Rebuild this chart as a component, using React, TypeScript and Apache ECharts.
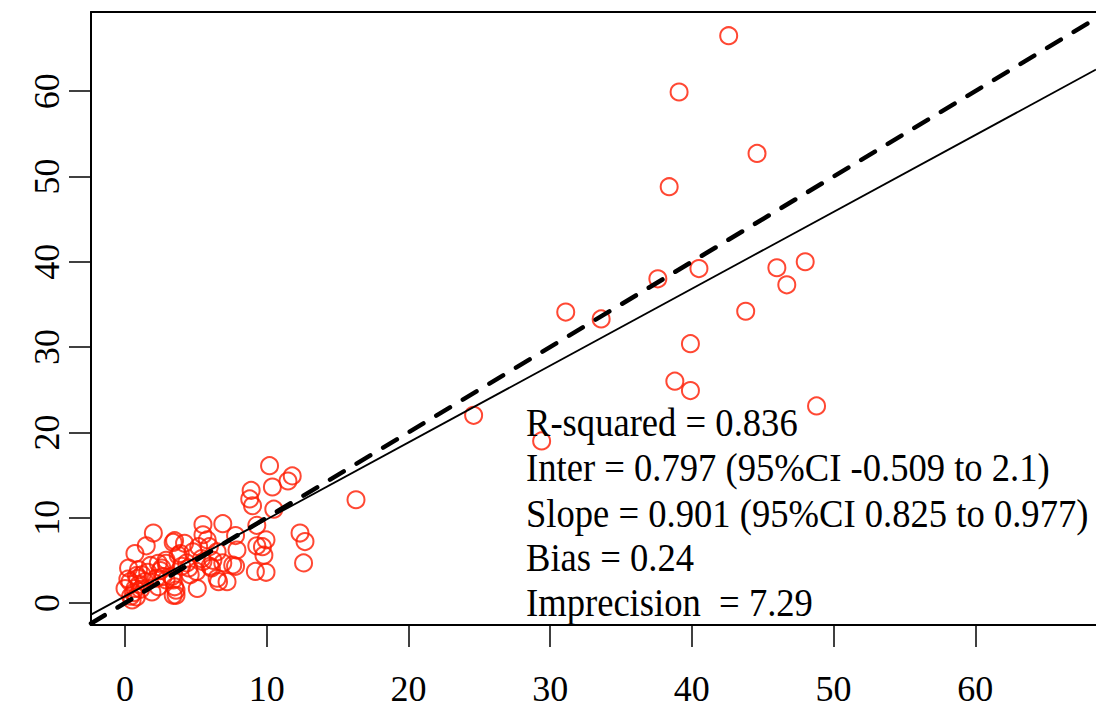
import React, { useEffect, useRef } from "react";
import * as echarts from "echarts";

const pointsX: number[] = [
  42.6, 39.1, 44.6, 38.4, 31.1, 33.6, 37.6, 40.5, 46.0, 48.0, 46.7, 43.8, 39.9, 38.8, 39.9, 48.8, 29.4, 24.6, 16.3,
  10.2, 11.8, 11.5, 10.4, 8.9, 8.8, 9.0, 10.5, 9.3, 12.35, 12.7, 12.6, 9.95, 9.7, 9.3, 7.9, 9.8, 7.8, 9.2, 9.95,
  5.5, 6.9, 3.4, 4.2, 5.5, 5.8, 5.95, 5.2, 4.8, 7.8, 3.9, 2.9, 2.7, 3.4, 3.6, 3.4, 4.6, 5.1, 6.5, 7.2, 6.9, 6.2, 6.5, 6.0, 4.35, 5.5,
  2.0, 1.5, 0.7, 3.5, 2.35, 2.6, 0.25, 0.95, 0.35, 0.0, 0.7, 0.8, 0.5, 1.2, 1.4, 1.9, 2.35, 3.5, 3.6, 3.3, 4.0, 3.75,
  2.9, 4.5, 5.05, 6.1, 6.6, 7.6, 2.9, 5.4,
  0.2, 0.6, 1.0, 0.4, 1.1, 0.9, 1.6, 2.2, 2.5, 1.8, 0.8,
];
const pointsY: number[] = [
  66.5, 59.9, 52.7, 48.8, 34.1, 33.3, 38.0, 39.2, 39.3, 40.0, 37.3, 34.2, 30.4, 26.0, 24.9, 23.1, 19.0, 22.0, 12.1,
  16.1, 14.9, 14.3, 13.6, 13.2, 12.2, 11.4, 11.0, 9.1, 8.2, 7.2, 4.7, 7.4, 6.6, 6.7, 6.2, 5.6, 4.3, 3.7, 3.6,
  9.2, 9.3, 7.1, 7.0, 8.0, 7.4, 6.6, 6.6, 6.0, 7.9, 5.8, 5.0, 3.1, 2.7, 1.5, 0.9, 3.3, 1.7, 2.9, 2.5, 4.7, 5.0, 6.0, 4.3, 4.7, 4.85,
  8.2, 6.7, 5.8, 7.3, 4.65, 4.1, 4.1, 3.9, 2.5, 1.7, 1.7, 0.7, 0.35, 3.3, 2.5, 1.3, 1.9, 1.9, 0.9, 3.1, 4.3, 5.6,
  4.65, 4.1, 3.7, 4.1, 2.5, 4.45, 2.7, 5.2,
  2.8, 1.2, 2.2, 0.8, 1.6, 2.9, 3.6, 2.9, 3.8, 4.4, 3.2,
];

const xTicks: number[] = [0, 10, 20, 30, 40, 50, 60];
const yTicks: number[] = [0, 10, 20, 30, 40, 50, 60];

const xRange: number[] = [-2.4, 68.52];
const yRange: number[] = [-2.58, 69.28];

const fitIntercept = 0.797;
const fitSlope = 0.901;

const statLines: string[] = [
  "R-squared = 0.836",
  "Inter = 0.797 (95%CI -0.509 to 2.1)",
  "Slope = 0.901 (95%CI 0.825 to 0.977)",
  "Bias = 0.24",
  "Imprecision  = 7.29",
];

const FONT = "'Liberation Serif', 'Times New Roman', serif";

export default function App() {
  const ref = useRef<HTMLDivElement>(null);
  useEffect(() => {
    if (!ref.current) return;
    const chart = echarts.init(ref.current, null, { renderer: "svg" });
    const scatterData = pointsX.map((x, i) => [x, pointsY[i]]);
    const identity = xRange.map((x) => [x, x]);
    const fit = xRange.map((x) => [x, fitIntercept + fitSlope * x]);
    const lineYs = [422, 467, 513, 557, 602];
    chart.setOption({
      animation: false,
      backgroundColor: "#ffffff",
      grid: { left: 91, top: 12, right: 0, bottom: 85, containLabel: false },
      xAxis: [
        {
          type: "value",
          min: xRange[0],
          max: xRange[1],
          position: "bottom",
          axisLine: { show: true, onZero: false, lineStyle: { color: "#000", width: 2 } },
          axisTick: { show: true, length: 22, customValues: xTicks, lineStyle: { color: "#000", width: 1.5 } },
          axisLabel: {
            customValues: xTicks,
            color: "#000",
            fontFamily: FONT,
            fontSize: 36,
            margin: 46,
          },
          splitLine: { show: false },
        },
        {
          type: "value",
          min: xRange[0],
          max: xRange[1],
          position: "top",
          axisLine: { show: true, onZero: false, lineStyle: { color: "#000", width: 2 } },
          axisTick: { show: false },
          axisLabel: { show: false },
          splitLine: { show: false },
        },
      ],
      yAxis: {
        type: "value",
        min: yRange[0],
        max: yRange[1],
        axisLine: { show: true, onZero: false, lineStyle: { color: "#000", width: 2 } },
        axisTick: { show: true, length: 22, customValues: yTicks, lineStyle: { color: "#000", width: 1.5 } },
        axisLabel: {
          customValues: yTicks,
          rotate: 90,
          color: "#000",
          fontFamily: FONT,
          fontSize: 36,
          margin: 26,
        },
        splitLine: { show: false },
      },
      series: [
        {
          type: "scatter",
          data: scatterData,
          symbol: "circle",
          symbolSize: 17,
          itemStyle: { color: "rgba(0,0,0,0)", borderColor: "#ff1a00", borderWidth: 2 },
          z: 2,
        },
        {
          type: "line",
          data: identity,
          symbol: "none",
          lineStyle: { color: "#000", width: 4.5, type: [16, 15], cap: "round" },
          clip: true,
          z: 3,
        },
        {
          type: "line",
          data: fit,
          symbol: "none",
          lineStyle: { color: "#000", width: 1.8, type: "solid" },
          clip: true,
          z: 3,
        },
      ],
      graphic: statLines.map((t, i) => ({
        type: "text",
        x: 526,
        y: lineYs[i],
        scaleY: 1.1,
        z: 10,
        style: {
          text: t,
          fill: "#000",
          font: `36.6px ${FONT}`,
          verticalAlign: "middle",
          align: "left",
        },
      })),
    });
    return () => chart.dispose();
  }, []);
  return (
    <div
      ref={ref}
      style={{ position: "fixed", left: 0, top: 0, width: 1096, height: 710, background: "#fff" }}
    />
  );
}
